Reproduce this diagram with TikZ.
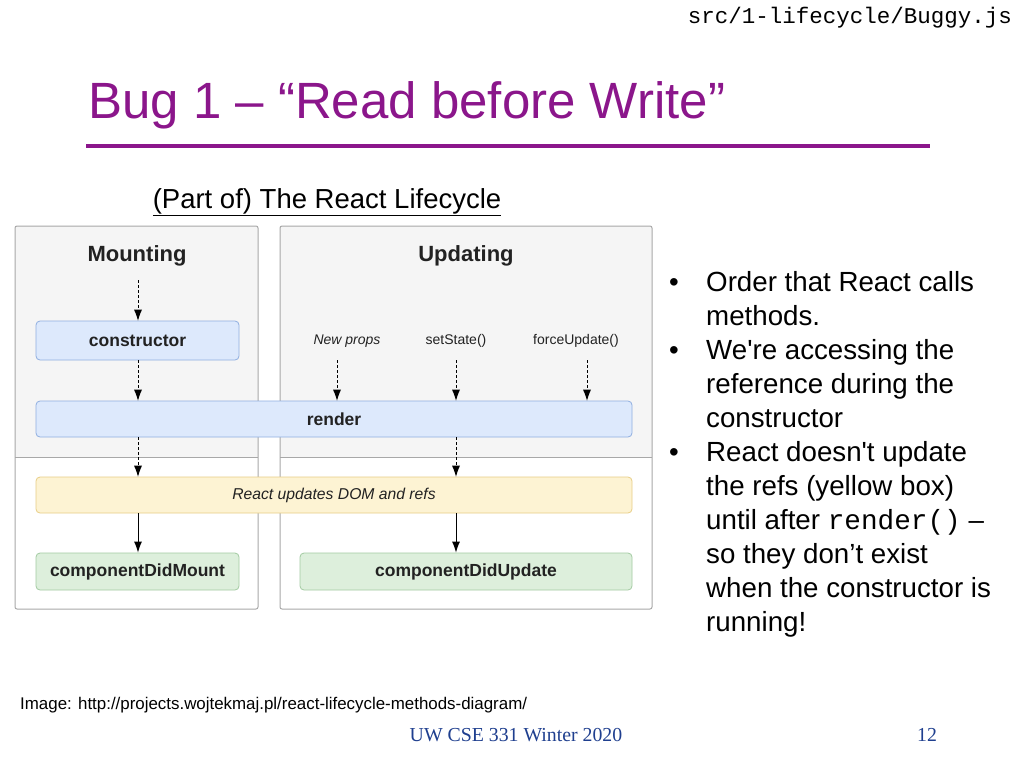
\documentclass[tikz,border=0pt]{standalone}
\usepackage{fontspec}
\setmainfont{Liberation Sans}
\newfontfamily\monof{Liberation Mono}
\newfontfamily\seriff{Liberation Serif}
\usetikzlibrary{arrows.meta}
\definecolor{ttl}{HTML}{8B168B}
\definecolor{pborder}{HTML}{A8A8A8}
\definecolor{pfill}{HTML}{F5F5F5}
\definecolor{bfill}{HTML}{DDE9FC}
\definecolor{bdraw}{HTML}{8FAEE0}
\definecolor{yfill}{HTML}{FDF3D3}
\definecolor{ydraw}{HTML}{E8CE86}
\definecolor{gfill}{HTML}{DDEFDC}
\definecolor{gdraw}{HTML}{A3CBA2}
\definecolor{foot}{HTML}{1F3F8F}
\definecolor{dtx}{HTML}{222222}
\tikzset{
 box/.style={draw, rounded corners=4pt, line width=0.8pt, inner sep=0pt, text=dtx},
 blue/.style={box, fill=bfill, draw=bdraw},
 yel/.style={box, fill=yfill, draw=ydraw},
 grn/.style={box, fill=gfill, draw=gdraw},
 dar/.style={dashed, dash pattern=on 3pt off 2pt, line width=1pt, -{Latex[length=11pt,width=8pt,line width=0pt]}},
 sar/.style={line width=1pt, -{Latex[length=11pt,width=8pt]}},
 bl/.style={anchor=base west, inner sep=0pt, font=\fontsize{27.7}{32}\selectfont},
 dtxt/.style={font=\fontsize{17.5}{20}\selectfont\bfseries}
}
\begin{document}
\begin{tikzpicture}[x=1pt,y=1pt]
\useasboundingbox (0,0) rectangle (1024,-768);
\fill[white] (0,0) rectangle (1024,-768);
\node[anchor=base east, inner sep=0pt, font=\monof\fontsize{22.5}{24}\selectfont] (hdr) at (1012,-24) {src/1-lifecycle/Buggy.js};
\node[anchor=base west, inner sep=0pt, text=ttl, font=\fontsize{51}{58}\selectfont] (title) at (88,-118) {Bug 1 -- “Read before Write”};
\draw[ttl, line width=4pt] (86,-146) coordinate (l1) -- (930,-146) coordinate (l2);
\node[anchor=base, inner sep=0pt, font=\fontsize{27.5}{32}\selectfont] (sub) at (327,-208) {\underline{(Part of) The React Lifecycle}};
% panels
\fill[pfill] (15,-226) rectangle (258,-457);
\fill[pfill] (280,-226) rectangle (652,-457);
\draw[pborder] (15,-457) -- (258,-457) (280,-457) -- (652,-457);
\draw[pborder, line width=1pt, rounded corners=2pt] (15,-226) rectangle (258,-609);
\draw[pborder, line width=1pt, rounded corners=2pt] (280,-226) rectangle (652,-609);
\node[font=\fontsize{22}{26}\selectfont\bfseries, text=dtx] (mnt) at (137,-256) {Mounting};
\node[font=\fontsize{22}{26}\selectfont\bfseries, text=dtx] (upd) at (466,-256) {Updating};
\node[blue, minimum width=203pt, minimum height=39pt, dtxt] (ctor) at (137.5,-340.5) {constructor};
\node[blue, minimum width=596pt, minimum height=36pt, dtxt] (render) at (334,-419) {render};
\node[yel, minimum width=596pt, minimum height=36pt, font=\fontsize{15.7}{18}\selectfont\itshape] (dom) at (334,-495) {React updates DOM and refs};
\node[grn, minimum width=203pt, minimum height=37pt, dtxt] (cdm) at (137.5,-571.5) {componentDidMount};
\node[grn, minimum width=332pt, minimum height=37pt, dtxt] (cdu) at (466,-571.5) {componentDidUpdate};
\node[font=\fontsize{14}{17}\selectfont\itshape, text=dtx] (np) at (347,-341) {New props};
\node[font=\fontsize{14}{17}\selectfont, text=dtx] (ss) at (456,-341) {setState()};
\node[font=\fontsize{14}{17}\selectfont, text=dtx] (fu) at (576,-341) {forceUpdate()};
\draw[dar] (138,-280) -- (ctor.north -| 138,0);
\draw[dar] (ctor.south -| 138,0) -- (render.north -| 138,0);
\draw[dar] (render.south -| 138,0) -- (dom.north -| 138,0);
\draw[sar] (dom.south -| 138,0) -- (cdm.north -| 138,0);
\draw[dar] (337,-360) -- (render.north -| 337,0);
\draw[dar] (456,-360) -- (render.north -| 456,0);
\draw[dar] (587,-360) -- (render.north -| 587,0);
\draw[dar] (render.south -| 456,0) -- (dom.north -| 456,0);
\draw[sar] (dom.south -| 456,0) -- (cdu.north -| 456,0);
% bullets
\foreach \y in {291,359,461} \node[bl] at (669,-\y) {•};
\node[bl] (b1) at (706,-291) {Order that React calls};
\node[bl] (b2) at (706,-325) {methods.};
\node[bl] (b3) at (706,-359) {We\textquotesingle re accessing the};
\node[bl] (b4) at (706,-393) {reference during the};
\node[bl] (b5) at (706,-427) {constructor};
\node[bl] (b6) at (706,-461) {React doesn\textquotesingle t update};
\node[bl] (b7) at (706,-495) {the refs (yellow box)};
\node[bl] (b8) at (706,-529) {until after {\monof render()} --};
\node[bl] (b9) at (706,-563) {so they don’t exist};
\node[bl] (b10) at (706,-597) {when the constructor is};
\node[bl] (b11) at (706,-631) {running!};
\node[anchor=base west, inner sep=0pt, font=\fontsize{16.9}{20}\selectfont] (img) at (20,-709) {Image: http://projects.wojtekmaj.pl/react-lifecycle-methods-diagram/};
\node[anchor=base, inner sep=0pt, text=foot, font=\seriff\fontsize{19.8}{23}\selectfont] (ft) at (516,-741) {UW CSE 331 Winter 2020};
\node[anchor=base, inner sep=0pt, text=foot, font=\seriff\fontsize{19.8}{23}\selectfont] (pg) at (927,-741) {12};
\end{tikzpicture}
\end{document}
